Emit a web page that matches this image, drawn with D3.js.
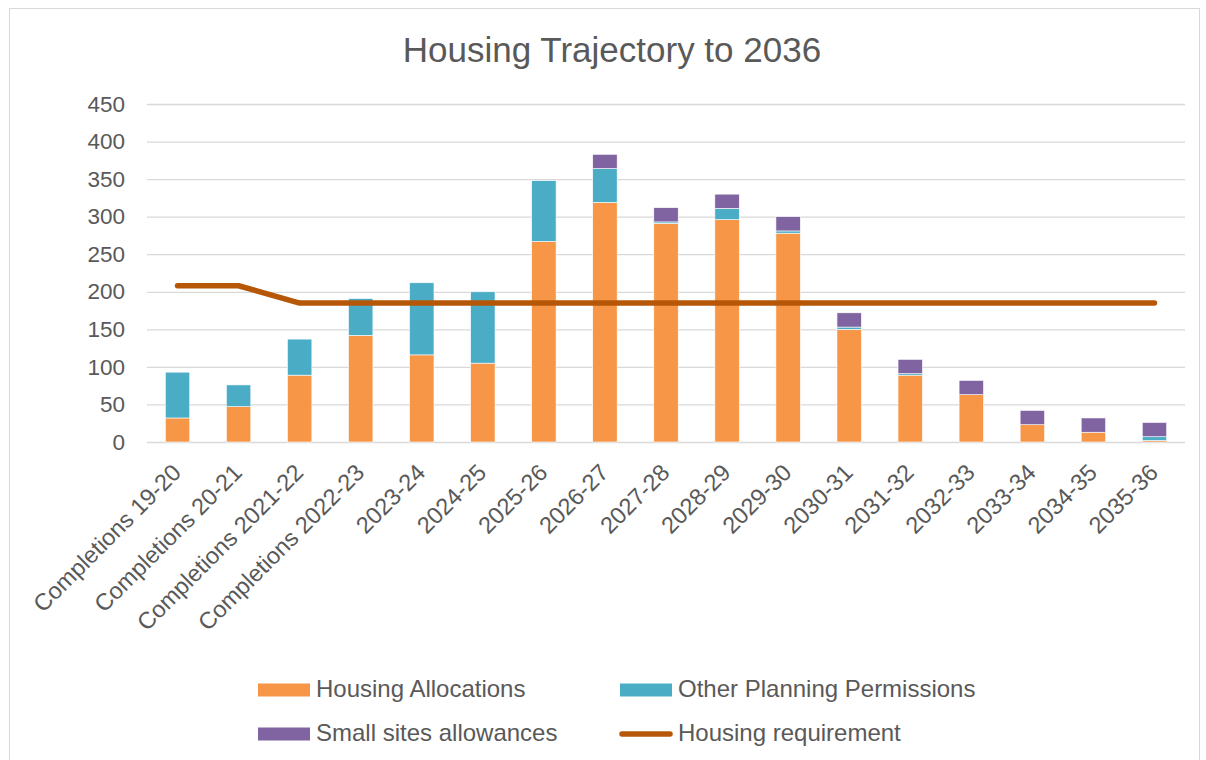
<!DOCTYPE html>
<html>
<head>
<meta charset="utf-8">
<script src="https://cdn.jsdelivr.net/npm/d3@7"></script>
<style>
  body { margin: 0; background: #fff; }
  svg { display: block; font-family: 'Liberation Sans', Arial, sans-serif; }
</style>
</head>
<body>
<div id="chart"></div>
<script>
const categories = ['Completions 19-20', 'Completions 20-21', 'Completions 2021-22', 'Completions 2022-23',
  '2023-24', '2024-25', '2025-26', '2026-27', '2027-28', '2028-29', '2029-30', '2030-31',
  '2031-32', '2032-33', '2033-34', '2034-35', '2035-36']
const allocations = [32, 47, 89, 142, 116, 105, 267, 319, 291, 296, 278, 150, 89, 63, 23, 13, 2]
const otherPermissions = [61, 29, 48, 49, 96, 95, 81, 45, 2, 15, 3, 3, 2, 0, 0, 0, 5]
const smallSites = [0, 0, 0, 0, 0, 0, 0, 19, 19, 19, 19, 19, 19, 19, 19, 19, 19]
const requirement = [208, 208, 185, 185, 185, 185, 185, 185, 185, 185, 185, 185, 185, 185, 185, 185, 185]
const yTicks = [0, 50, 100, 150, 200, 250, 300, 350, 400, 450]

const seriesNames = ['Housing Allocations', 'Other Planning Permissions', 'Small sites allowances']
const lineName = 'Housing requirement'
const colors = ['#F79646', '#4BACC6', '#8064A2']
const lineColor = '#B65708'
const textColor = '#595959'

const W = 1206, H = 760
const m = { left: 147, right: 21, top: 104, bottom: 318 }
const plotW = W - m.left - m.right
const plotH = H - m.top - m.bottom

const svg = d3.select('#chart').append('svg').attr('width', W).attr('height', H)

// chart border
svg.append('rect')
  .attr('x', 9.5).attr('y', 8.5).attr('width', 1190).attr('height', 780)
  .attr('fill', 'none').attr('stroke', '#D9D9D9').attr('stroke-width', 1)

svg.append('text')
  .attr('x', 612).attr('y', 62)
  .attr('text-anchor', 'middle')
  .attr('font-size', 35)
  .attr('fill', textColor)
  .text('Housing Trajectory to 2036')

const view = svg.append('g').attr('transform', `translate(${m.left},${m.top})`)

const x = d3.scaleBand().domain(categories).range([0, plotW]).paddingInner(0.6).paddingOuter(0.3)
const y = d3.scaleLinear().domain([0, 450]).range([plotH, 0])

// gridlines + y labels
const yAxis = view.append('g')
  .call(d3.axisLeft(y).tickValues(yTicks).tickSize(-plotW).tickPadding(22))
yAxis.select('.domain').remove()
yAxis.selectAll('.tick line').attr('stroke', '#D9D9D9').attr('stroke-width', 1.3)
yAxis.selectAll('.tick text')
  .attr('fill', textColor).attr('font-size', 22.5)
  .attr('font-family', "'Liberation Sans', Arial, sans-serif")

// stacked bars
const table = categories.map((c, i) => ({
  cat: c,
  [seriesNames[0]]: allocations[i],
  [seriesNames[1]]: otherPermissions[i],
  [seriesNames[2]]: smallSites[i]
}))
const stacked = d3.stack().keys(seriesNames)(table)

view.selectAll('.series')
  .data(stacked)
  .join('g')
  .attr('class', 'series')
  .attr('fill', (d, i) => colors[i])
  .selectAll('rect')
  .data(d => d.filter(p => p[1] > p[0]))
  .join('rect')
  .attr('x', d => x(d.data.cat))
  .attr('width', x.bandwidth())
  .attr('y', d => y(d[1]))
  .attr('height', d => y(d[0]) - y(d[1]))
  .attr('stroke', '#fff')
  .attr('stroke-width', 0.6)

// requirement line
const line = d3.line()
  .x((d, i) => x(categories[i]) + x.bandwidth() / 2)
  .y(d => y(d))

view.append('path')
  .datum(requirement)
  .attr('d', line)
  .attr('fill', 'none')
  .attr('stroke', lineColor)
  .attr('stroke-width', 5.5)
  .attr('stroke-linecap', 'round')
  .attr('stroke-linejoin', 'round')

// x labels
const xAxis = view.append('g')
  .attr('transform', `translate(0,${plotH})`)
  .call(d3.axisBottom(x).tickSize(0))
xAxis.select('.domain').remove()
xAxis.selectAll('.tick text')
  .attr('fill', textColor).attr('font-size', 23.5)
  .attr('font-family', "'Liberation Sans', Arial, sans-serif")
  .attr('text-anchor', 'end')
  .attr('dy', null)
  .attr('y', null)
  .attr('transform', 'translate(5,32) rotate(-45)')

// legend
const legendItems = [
  { name: seriesNames[0], color: colors[0], type: 'rect', x: 258, y: 690 },
  { name: seriesNames[1], color: colors[1], type: 'rect', x: 620, y: 690 },
  { name: seriesNames[2], color: colors[2], type: 'rect', x: 258, y: 734 },
  { name: lineName, color: lineColor, type: 'line', x: 620, y: 734 }
]
const lg = svg.append('g').selectAll('g').data(legendItems).join('g')
  .attr('transform', d => `translate(${d.x},${d.y})`)
lg.filter(d => d.type === 'rect').append('rect')
  .attr('x', 0).attr('y', -6.5).attr('width', 52).attr('height', 13)
  .attr('fill', d => d.color)
lg.filter(d => d.type === 'line').append('line')
  .attr('x1', 2).attr('x2', 50).attr('y1', 0).attr('y2', 0)
  .attr('stroke', d => d.color).attr('stroke-width', 5.5).attr('stroke-linecap', 'round')
lg.append('text')
  .attr('x', 58).attr('y', -1).attr('dy', '0.35em')
  .attr('font-size', 24)
  .attr('fill', textColor)
  .text(d => d.name)
</script>
</body>
</html>
